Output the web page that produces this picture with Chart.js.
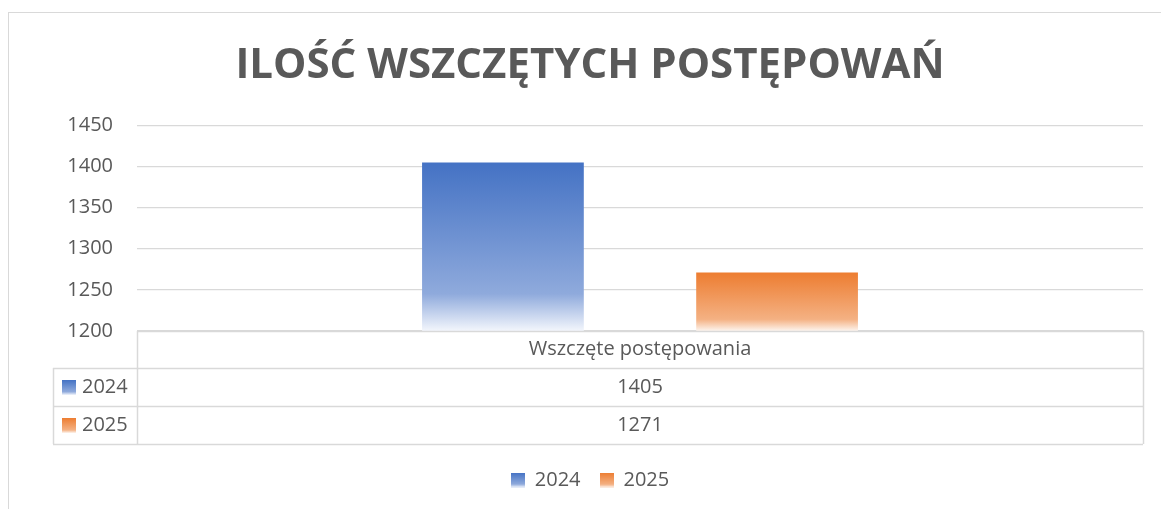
<!DOCTYPE html>
<html>
<head>
<meta charset="utf-8">
<script src="https://cdn.jsdelivr.net/npm/chart.js@4"></script>
<style>
   html, body { margin: 0; padding: 0; background: #ffffff; overflow: hidden; }
   #frame {
      position: absolute;
      left: 8px;
      top: 12px;
      width: 1164px;
      height: 510px;
      border: 1px solid #d9d9d9;
   }
</style>
</head>
<body>
<div id="frame"><canvas id="chart" width="1164" height="510"></canvas></div>
<script>
   const chartTitle = 'ILOŚĆ WSZCZĘTYCH POSTĘPOWAŃ';
   const categories = ['Wszczęte postępowania'];
   const seriesNames = ['2024', '2025'];
   const values2024 = [1405];
   const values2025 = [1271];
   const yTicks = [1200, 1250, 1300, 1350, 1400, 1450];

   const textColor = '#595959';
   const lineColor = '#d9d9d9';
   const fontFamily = "'Open Sans', 'Noto Sans', sans-serif";

   // gradient stops (top -> bottom) for each series, like the office fill
   const gradStops = [
      [[0, '#4472C4'], [0.78, '#8FAADC'], [1, '#F3F6FC']],
      [[0, '#ED7D31'], [0.8, '#F4B183'], [1, '#FDF5EF']]
   ];

   function makeGradient(ctx, stops, y0, y1) {
      let g = ctx.createLinearGradient(0, y0, 0, y1);
      stops.forEach((s) => g.addColorStop(s[0], s[1]));
      return g;
   }

   function barFill(context) {
      const chart = context.chart;
      const stops = gradStops[context.datasetIndex];
      if (!chart.chartArea || context.raw === undefined) {
         return stops[0][1];
      }
      const yScale = chart.scales.y;
      const top = yScale.getPixelForValue(context.raw);
      const bottom = yScale.getPixelForValue(yScale.min);
      return makeGradient(chart.ctx, stops, top, bottom);
   }

   // small gradient squares for legend and data table
   function legendSquare(stops) {
      let c = document.createElement('canvas');
      c.width = 14;
      c.height = 15;
      let cx = c.getContext('2d');
      cx.fillStyle = makeGradient(cx, stops, 0, 15);
      cx.fillRect(0, 0, 14, 15);
      return c;
   }
   const squares = gradStops.map(legendSquare);

   // data table under the plot, rows come from the datasets
   let DataTablePlugin = {
      id: 'datatable',
      afterDraw: (chart) => {
         const ctx = chart.ctx;
         const area = chart.chartArea;
         const xScale = chart.scales.x;
         const headH = 37;
         const rowH = 38;
         const leftCol = 44;
         const nRows = chart.data.datasets.length;
         const bottom = area.bottom + headH + rowH * nRows;

         ctx.save();
         ctx.strokeStyle = lineColor;
         ctx.lineWidth = 1.5;
         ctx.beginPath();
         // top line of header
         ctx.moveTo(area.left, area.bottom + 0.5);
         ctx.lineTo(area.right, area.bottom + 0.5);
         // row lines
         for (let r = 0; r <= nRows; r++) {
            let y = Math.round(area.bottom + headH + rowH * r) + 0.5;
            ctx.moveTo(leftCol, y);
            ctx.lineTo(area.right, y);
         }
         // verticals
         ctx.moveTo(area.left + 0.5, area.bottom);
         ctx.lineTo(area.left + 0.5, bottom);
         ctx.moveTo(leftCol + 0.5, area.bottom + headH);
         ctx.lineTo(leftCol + 0.5, bottom);
         ctx.moveTo(area.right + 0.5, area.bottom);
         ctx.lineTo(area.right + 0.5, bottom);
         ctx.stroke();

         ctx.fillStyle = textColor;
         ctx.font = '20px ' + fontFamily;
         ctx.textBaseline = 'middle';
         ctx.textAlign = 'center';
         chart.data.labels.forEach((lbl, i) => {
            const cx = xScale.getPixelForValue(i);
            ctx.fillText(lbl, cx, area.bottom + headH / 2);
            chart.data.datasets.forEach((ds, r) => {
               ctx.fillText(String(ds.data[i]), cx, area.bottom + headH + rowH * r + rowH / 2);
            });
         });

         ctx.textAlign = 'left';
         chart.data.datasets.forEach((ds, r) => {
            const cy = area.bottom + headH + rowH * r + rowH / 2;
            ctx.drawImage(squares[r], 53, Math.round(cy - 7));
            ctx.fillText(ds.label, 73, cy);
         });
         ctx.restore();
      }
   };

   new Chart(document.getElementById('chart'), {
      type: 'bar',
      data: {
         labels: categories,
         datasets: [{
            label: seriesNames[0],
            data: values2024,
            backgroundColor: barFill,
            categoryPercentage: 0.545,
            barPercentage: 0.59
         }, {
            label: seriesNames[1],
            data: values2025,
            backgroundColor: barFill,
            categoryPercentage: 0.545,
            barPercentage: 0.59
         }]
      },
      plugins: [DataTablePlugin],
      options: {
         responsive: false,
         animation: false,
         events: [],
         layout: {
            padding: { left: 28, right: 30, top: 0, bottom: 23 }
         },
         plugins: {
            title: {
               display: true,
               text: chartTitle,
               color: textColor,
               font: { family: fontFamily, size: 42, weight: 'bold', lineHeight: 1.2 },
               padding: { top: 28, bottom: 34 }
            },
            legend: {
               display: true,
               position: 'bottom',
               labels: {
                  color: textColor,
                  font: { family: fontFamily, size: 20 },
                  usePointStyle: true,
                  boxWidth: 14,
                  boxHeight: 14,
                  padding: 19,
                  generateLabels: (chart) => chart.data.datasets.map((ds, i) => ({
                     text: ds.label,
                     fillStyle: gradStops[i][0][1],
                     strokeStyle: 'transparent',
                     lineWidth: 0,
                     hidden: false,
                     datasetIndex: i,
                     pointStyle: squares[i],
                     fontColor: textColor
                  }))
               }
            },
            tooltip: { enabled: false }
         },
         scales: {
            x: {
               grid: { display: false },
               border: { display: false },
               ticks: { display: false },
               afterFit: (scale) => { scale.height = 120; }
            },
            y: {
               min: yTicks[0],
               max: yTicks[yTicks.length - 1],
               border: { display: false },
               grid: { color: lineColor, lineWidth: 1.3, drawTicks: false },
               afterFit: (scale) => { scale.width = 100; },
               afterBuildTicks: (scale) => {
                  scale.ticks = yTicks.map((v) => ({ value: v }));
               },
               ticks: {
                  color: textColor,
                  padding: 24,
                  font: { family: fontFamily, size: 20 },
                  callback: (v) => String(v)
               }
            }
         }
      }
   });
</script>
</body>
</html>
